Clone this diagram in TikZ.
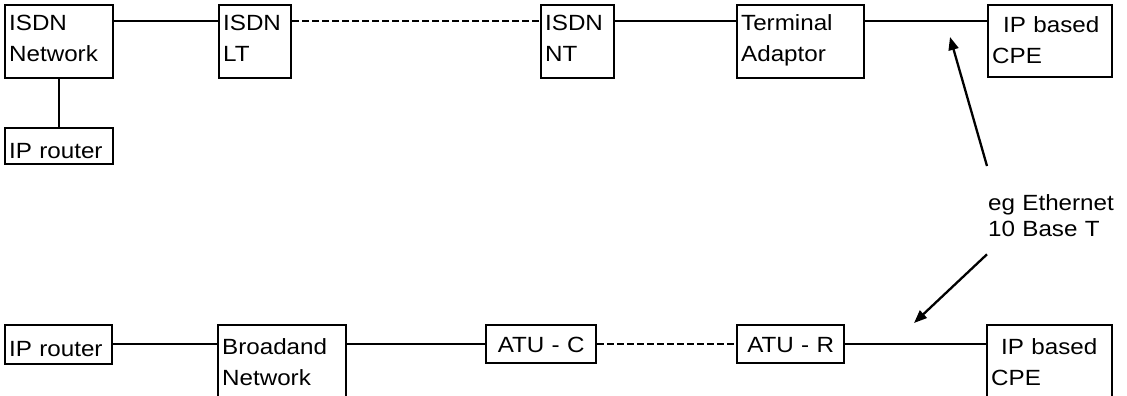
\documentclass[tikz,border=0pt]{standalone}
\usepackage{fontspec}
\setmainfont{Liberation Sans}[FakeStretch=1.1, WordSpace=1.4]
\usetikzlibrary{arrows.meta}
\begin{document}
\begin{tikzpicture}[x=1pt, y=-1pt, line width=2.3pt,
  box/.style={draw, anchor=north west, align=left, inner xsep=4pt, inner ysep=0pt, font=\fontsize{22}{31}\selectfont},
  link/.style={line width=2.3pt},
  dashlink/.style={line width=2.3pt, dash pattern=on 6.5pt off 3.5pt},
  pointer/.style={line width=2.3pt, -{Triangle[length=13pt, width=10pt]}}]
\useasboundingbox (0,0) rectangle (1127,396);
% ISDN path (top)
\node[box, text width=100pt, text height=25pt, text depth=48pt] (isdnnet) at (4,4) {ISDN\\Network};
\node[box, text width=100pt, text height=30pt, text depth=6pt] (rtrtop) at (4,127) {IP router};
\node[box, text width=64pt, text height=25pt, text depth=48pt] (isdnlt) at (218,4) {ISDN\\LT};
\node[box, text width=65pt, text height=25pt, text depth=48pt] (isdnnt) at (540,4) {ISDN\\NT};
\node[box, text width=119pt, text height=25pt, text depth=48pt] (ta) at (736,4) {Terminal\\Adaptor};
\node[box, text width=116pt, text height=27pt, text depth=45pt] (cpetop) at (987,4) {\hspace*{11pt}IP based\\CPE};
\draw[link] (isdnnet) -- (rtrtop);
\draw[link] ([yshift=-17pt]isdnnet.north east) -- ([yshift=-17pt]isdnlt.north west);
\draw[dashlink] ([yshift=-17pt]isdnlt.north east) -- ([yshift=-17pt]isdnnt.north west);
\draw[link] ([yshift=-17pt]isdnnt.north east) -- ([yshift=-17pt]ta.north west);
\draw[link] ([yshift=-17pt]ta.north east) -- ([yshift=-17pt]cpetop.north west);
% ADSL path (bottom)
\node[box, text width=99pt, text height=31pt, text depth=8pt] (rtrbot) at (4,324) {IP router};
\node[box, text width=120pt, text height=29pt, text depth=43pt] (bbnet) at (217,324) {Broadand\\Network};
\node[box, align=center, text width=102pt, text height=27pt, text depth=11pt] (atuc) at (485,324) {ATU - C};
\node[box, align=center, text width=99pt, text height=27pt, text depth=11pt] (atur) at (736,324) {ATU - R};
\node[box, text width=117pt, text height=29pt, text depth=43pt] (cpebot) at (986,324) {\hspace*{10pt}IP based\\CPE};
\draw[link] ([yshift=-20pt]rtrbot.north east) -- ([yshift=-20pt]bbnet.north west);
\draw[link] ([yshift=-20pt]bbnet.north east) -- ([yshift=-20pt]atuc.north west);
\draw[dashlink] ([yshift=-20pt]atuc.north east) -- ([yshift=-20pt]atur.north west);
\draw[link] ([yshift=-20pt]atur.north east) -- ([yshift=-20pt]cpebot.north west);
% Ethernet note
\node[anchor=north west, align=left, inner sep=0pt, text width=138pt, text height=43pt, text depth=43pt, font=\fontsize{22}{26}\selectfont] (eth) at (987,166) {eg Ethernet\\10 Base T};
\coordinate (ethup) at (950,37);
\coordinate (ethdn) at (914,323);
\draw[pointer] (eth.north west) -- (ethup);
\draw[pointer] (eth.south west) -- (ethdn);
\end{tikzpicture}
\end{document}
